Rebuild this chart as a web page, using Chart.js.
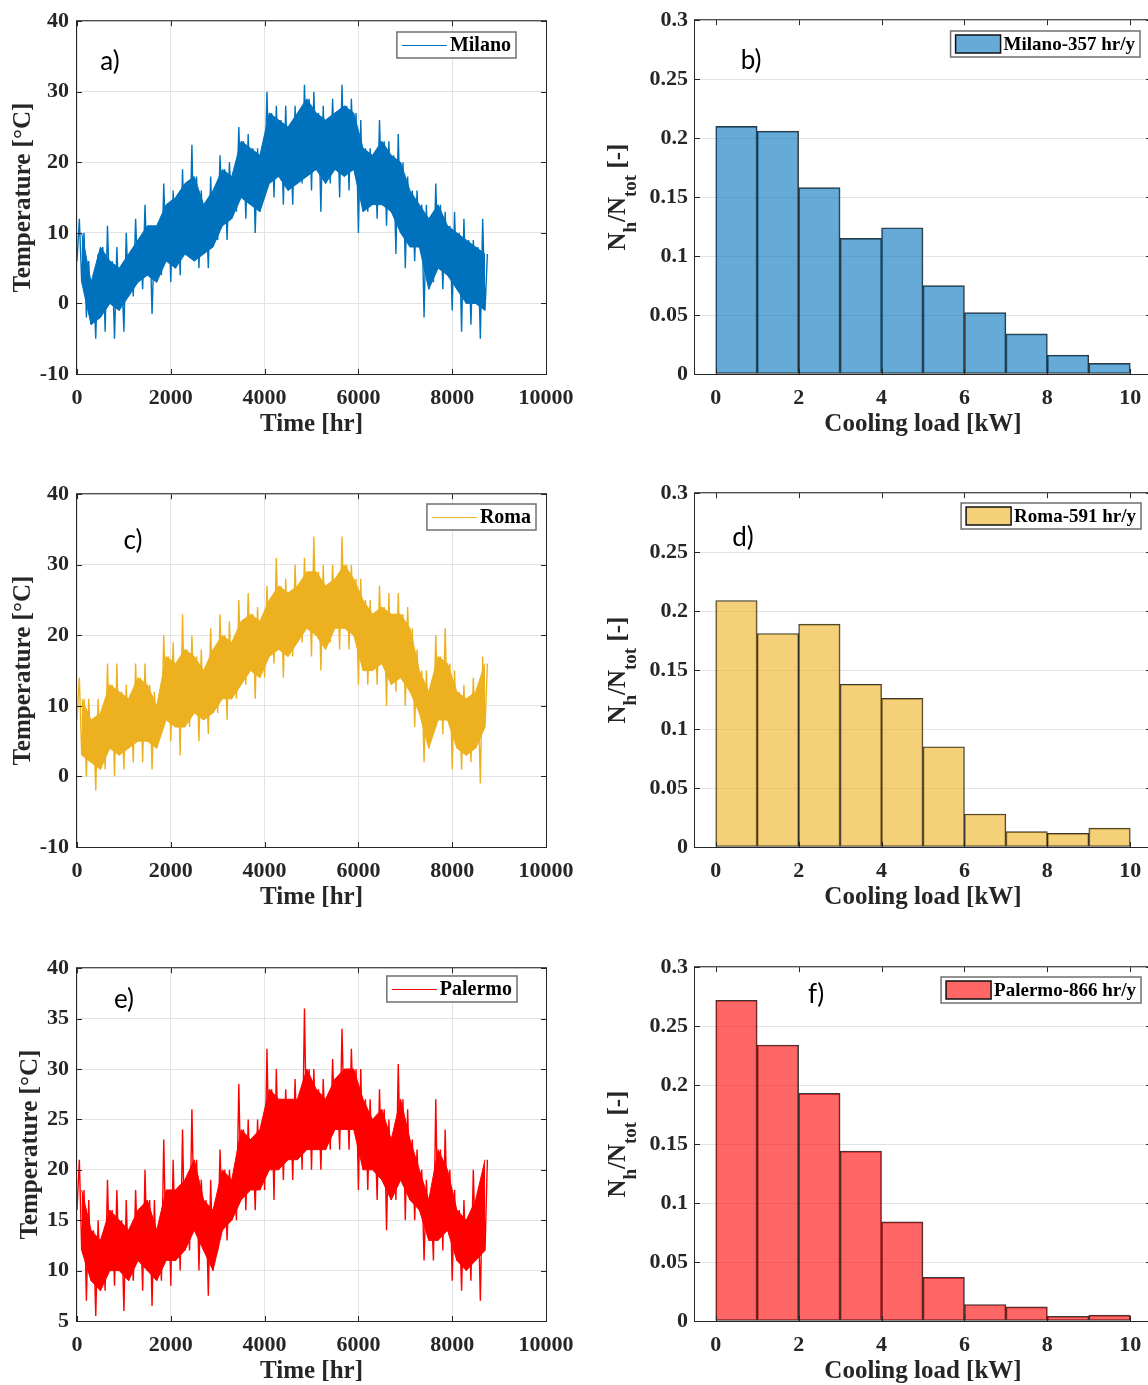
<!DOCTYPE html>
<html>
<head>
<meta charset="utf-8">
<script src="https://cdn.jsdelivr.net/npm/chart.js@4.4.1/dist/chart.umd.min.js"></script>
<style>
html, body { margin: 0; padding: 0; background: #fff; width: 1148px; height: 1385px; overflow: hidden; position: relative; }
canvas { position: absolute; }
</style>
</head>
<body>
<canvas id="tMilano" width="600" height="460" style="left:0;top:0"></canvas>
<canvas id="hMilano" width="600" height="460" style="left:590px;top:0"></canvas>
<canvas id="tRoma" width="600" height="460" style="left:0;top:473px"></canvas>
<canvas id="hRoma" width="600" height="460" style="left:590px;top:473px"></canvas>
<canvas id="tPalermo" width="600" height="460" style="left:0;top:947px"></canvas>
<canvas id="hPalermo" width="600" height="460" style="left:590px;top:947px"></canvas>
<script>
// hourly temperature, one value every 50 hours
const milanoTemp = [
  6, 12, 3, 10, -2, 6, -3, 3, -5, 7, -2, 8, -4, 11, 0, 6, -5, 8, -1, 5,
  -4, 10, 1, 7, 1, 12, 3, 9, 2, 14, 4, 11, -1.5, 9, 3, 11, 4, 17, 6, 14,
  3, 16, 5, 15, 4, 19, 7, 17, 8, 22.5, 6, 18, 5, 16, 7, 14, 5, 18, 8, 16,
  9, 21, 11, 19, 9, 20, 12, 18, 13, 25, 15, 23, 12, 24, 14, 22, 10, 22, 13, 21,
  16, 30, 17, 27, 15, 28, 18, 26, 14, 28, 16, 25, 14, 28, 17, 27, 17, 31, 18, 29,
  16, 30, 19, 27, 13, 28, 17, 26, 17, 29, 19, 27, 15, 31, 18, 28, 16, 29, 19, 27,
  10, 26, 13, 22, 13, 22, 14, 21, 12, 26, 14, 23, 11, 23, 13, 21, 7, 24, 10, 20,
  5, 18, 8, 16, 6, 16, 8, 14, -2, 14, 2, 12, 3, 17, 5, 14, 2, 13, 4, 11,
  -1, 13, 2, 10, -4, 12, 0, 9, -3, 9, 0, 8, -5, 12, -1, 7
];
const romaTemp = [
  8, 14, 3, 11, 0, 11, 2, 8, -2, 11, 1, 9, 1, 16, 4, 13, 0, 16, 3, 12,
  1, 13, 4, 11, 2, 16, 5, 14, 2, 16, 5, 13, 1, 12, 4, 10, 6, 20, 8, 17,
  5, 19, 7, 16, 3, 23, 7, 18, 7, 20, 9, 17, 5, 18, 8, 15, 6, 21, 9, 18,
  9, 23, 11, 20, 8, 22, 11, 19, 11, 25, 13, 22, 13, 26, 15, 23, 11, 24, 14, 22,
  14, 27, 17, 25, 16, 31, 18, 27, 14, 28, 17, 26, 17, 30, 19, 27, 19, 31, 21, 29,
  17, 34, 20, 29, 15, 30, 18, 27, 19, 30, 21, 28, 18, 34, 21, 30, 18, 30, 20, 28,
  13, 28, 15, 25, 13, 25, 15, 23, 13, 27, 16, 24, 10, 26, 13, 23, 12, 26, 14, 23,
  10, 24, 12, 21, 7, 18, 9, 15, 2, 15, 4, 12, 6, 20, 8, 17, 6, 21, 8, 16,
  1, 15, 4, 12, 1, 13, 3, 11, 2, 14, 4, 12, -1, 17, 7, 16
];
const palermoTemp = [
  16, 21, 12, 18, 7, 17, 9, 14, 5.5, 15, 8, 13, 8, 19, 10, 16, 8.5, 18, 10, 15,
  6, 17, 9, 14, 9, 18, 11, 16, 8, 20, 10, 17, 6.5, 17, 9, 14, 9, 23, 11, 18,
  8.5, 21, 11, 18, 10, 24, 12, 19, 12, 26, 14, 21, 10, 19, 12, 17, 7.5, 19, 10, 16,
  12, 22, 14, 20, 13, 20, 15, 19, 15, 28.5, 17, 24, 16, 25, 18, 23, 16, 25, 18, 24,
  18, 32, 20, 28, 17, 30, 20, 27, 19, 28, 21, 27, 19, 29, 21, 27, 20, 36, 22, 30,
  20, 30, 22, 28, 20, 29, 22, 27, 22, 31, 24, 29, 22, 34, 24, 30, 22, 32, 24, 30,
  18, 30, 20, 27, 18, 27, 20, 25, 17, 28, 19, 26, 14, 25, 17, 23, 17, 30.5, 19, 27,
  15, 26, 17, 23, 15, 22, 16, 20, 11, 19, 13, 17, 11, 27, 13, 22, 12, 24, 14, 20,
  9, 18, 11, 16, 8, 17, 10, 15, 9, 20, 11, 17, 7, 19, 12, 21
];
const hours = milanoTemp.map((_, i) => i * 50);

// dense core of the hourly traces (lower / upper edge), one value per 200 hours
const milanoCoreLo = [3, -3, -2, 0, -1, 1, 3, 4, 3, 6, 5, 7, 6, 7, 8, 11, 12, 15, 14, 13, 17, 18, 16, 17, 18, 19, 17, 19, 18, 19, 13, 14, 14, 13, 10, 8, 8, 2, 5, 4, 2, 0, 0, -1];
const milanoCoreHi = [10, 3, 8, 6, 5, 7, 9, 11, 11, 14, 15, 17, 18, 14, 16, 19, 18, 23, 22, 21, 27, 26, 25, 27, 29, 27, 26, 27, 28, 27, 22, 21, 23, 21, 20, 16, 14, 12, 14, 11, 10, 9, 8, 7];
const romaCoreLo = [3, 2, 1, 4, 3, 4, 5, 5, 4, 8, 7, 7, 9, 8, 9, 11, 11, 13, 15, 14, 17, 18, 17, 19, 21, 20, 18, 21, 21, 20, 15, 15, 16, 13, 14, 12, 9, 4, 8, 8, 4, 3, 4, 7];
const romaCoreHi = [11, 8, 9, 13, 12, 11, 14, 13, 10, 17, 16, 18, 17, 15, 18, 20, 19, 22, 23, 22, 25, 27, 26, 27, 29, 29, 27, 28, 30, 28, 25, 23, 24, 23, 23, 21, 15, 12, 17, 16, 12, 11, 12, 16];
const palermoCoreLo = [12, 9, 8, 10, 10, 9, 11, 10, 9, 11, 11, 12, 14, 12, 10, 14, 15, 17, 18, 18, 20, 20, 21, 21, 22, 22, 22, 24, 24, 24, 20, 20, 19, 17, 19, 17, 16, 13, 13, 14, 11, 10, 11, 12];
const palermoCoreHi = [18, 14, 13, 16, 15, 14, 16, 17, 14, 18, 18, 19, 21, 17, 16, 20, 19, 24, 23, 24, 28, 27, 27, 27, 30, 28, 27, 29, 30, 30, 27, 25, 26, 23, 27, 23, 20, 17, 22, 20, 16, 15, 17, 21];
const coreHours = milanoCoreLo.map((_, i) => i * 200 + 100);

// cooling load histograms (bins of 1 kW)
const loadBins = [0.5, 1.5, 2.5, 3.5, 4.5, 5.5, 6.5, 7.5, 8.5, 9.5];
const milanoFreq = [0.210, 0.206, 0.158, 0.115, 0.124, 0.075, 0.052, 0.034, 0.016, 0.009];
const romaFreq = [0.209, 0.181, 0.189, 0.138, 0.126, 0.085, 0.028, 0.013, 0.0115, 0.016];
const palermoFreq = [0.272, 0.234, 0.193, 0.144, 0.084, 0.037, 0.014, 0.012, 0.004, 0.005];

const timeTicks = [0, 2000, 4000, 6000, 8000, 10000];
const tempTicks = [-10, 0, 10, 20, 30, 40];
const tempTicksPalermo = [5, 10, 15, 20, 25, 30, 35, 40];
const loadTicks = [0, 2, 4, 6, 8, 10];
const freqTicks = [0, 0.05, 0.1, 0.15, 0.2, 0.25, 0.3];

const SERIF = '"Liberation Serif", "Times New Roman", serif';
const INK = '#262626';

const decor = {
  id: 'decor',
  afterDraw(chart, args, o) {
    const { ctx, chartArea: a, scales } = chart;
    const ox = o.off[0], oy = o.off[1];
    ctx.save();
    ctx.strokeStyle = INK;
    ctx.lineWidth = 1;
    ctx.strokeRect(a.left - 0.5, a.top - 0.5, a.right - a.left + 1, a.bottom - a.top + 1);
    ctx.beginPath();
    scales.x.ticks.forEach(t => {
      const px = Math.round(scales.x.getPixelForValue(t.value)) + 0.5;
      ctx.moveTo(px, a.bottom); ctx.lineTo(px, a.bottom - 5);
      ctx.moveTo(px, a.top); ctx.lineTo(px, a.top + 5);
    });
    scales.y.ticks.forEach(t => {
      const py = Math.round(scales.y.getPixelForValue(t.value)) + 0.5;
      ctx.moveTo(a.left, py); ctx.lineTo(a.left + 5, py);
      ctx.moveTo(a.right, py); ctx.lineTo(a.right - 5, py);
    });
    ctx.stroke();

    // axis titles
    ctx.fillStyle = INK;
    ctx.font = 'bold 25px ' + SERIF;
    ctx.textAlign = 'center';
    ctx.textBaseline = 'middle';
    ctx.fillText(o.xTitle, (a.left + a.right) / 2, a.bottom + 51);

    ctx.save();
    ctx.translate(o.yTitleX - ox, (a.top + a.bottom) / 2);
    ctx.rotate(-Math.PI / 2);
    const parts = o.yTitle;
    const big = 'bold 25px ' + SERIF, small = 'bold 19px ' + SERIF;
    let total = 0;
    parts.forEach(p => { ctx.font = p.sub ? small : big; total += ctx.measureText(p.t).width; });
    let x = -total / 2;
    ctx.textAlign = 'left';
    ctx.textBaseline = 'alphabetic';
    parts.forEach(p => {
      ctx.font = p.sub ? small : big;
      ctx.fillText(p.t, x, p.sub ? 19 : 8);
      x += ctx.measureText(p.t).width;
    });
    ctx.restore();

    // legend
    const L = o.legend;
    ctx.font = 'bold ' + L.size + 'px ' + SERIF;
    const tw = ctx.measureText(L.label).width;
    const sw = 45, h = 26;
    const w = 5 + sw + 3 + tw + 5;
    const x0 = L.right - ox - w, y0 = L.top - oy;
    ctx.fillStyle = '#fff';
    ctx.fillRect(x0, y0, w, h);
    ctx.strokeStyle = '#707070';
    ctx.lineWidth = 1.5;
    ctx.strokeRect(x0, y0, w, h);
    if (L.kind === 'line') {
      ctx.strokeStyle = L.color;
      ctx.lineWidth = 1;
      ctx.beginPath();
      ctx.moveTo(x0 + 5, y0 + h / 2 + 0.5);
      ctx.lineTo(x0 + 5 + sw, y0 + h / 2 + 0.5);
      ctx.stroke();
    } else {
      ctx.fillStyle = L.color;
      ctx.fillRect(x0 + 5, y0 + 4, sw, h - 8);
      ctx.strokeStyle = '#111';
      ctx.lineWidth = 1.5;
      ctx.strokeRect(x0 + 5, y0 + 4, sw, h - 8);
    }
    ctx.fillStyle = '#000';
    ctx.textAlign = 'left';
    ctx.textBaseline = 'middle';
    ctx.fillText(L.label, x0 + 5 + sw + 3, y0 + h / 2 + 1);

    // panel letter
    ctx.font = '26px Lato, "Open Sans", sans-serif';
    ctx.textAlign = 'center';
    ctx.fillText(o.panel[0], o.panel[1] - ox, o.panel[2] - oy);
    ctx.restore();
  }
};

const tickFont = { family: SERIF, size: 22, weight: 'bold' };

function tempChart(id, off, series, coreLo, coreHi, color, name, yTicks, yTitleX, legendRight, legendTop, panel) {
  return new Chart(document.getElementById(id), {
    type: 'line',
    data: {
      datasets: [{
        label: name,
        data: series.map((v, i) => ({ x: hours[i], y: v })),
        borderColor: color,
        borderWidth: 1.4,
        borderJoinStyle: 'bevel',
        pointRadius: 0,
        tension: 0,
        fill: false
      }, {
        data: coreHi.map((v, i) => ({ x: coreHours[i], y: v })),
        borderColor: color,
        borderWidth: 1,
        backgroundColor: color,
        pointRadius: 0,
        tension: 0,
        fill: '+1'
      }, {
        data: coreLo.map((v, i) => ({ x: coreHours[i], y: v })),
        borderColor: color,
        borderWidth: 1,
        pointRadius: 0,
        tension: 0,
        fill: false
      }]
    },
    options: {
      responsive: false,
      animation: false,
      events: [],
      layout: { padding: { top: 19, right: 54, bottom: 0, left: 0 } },
      plugins: {
        legend: { display: false },
        tooltip: { enabled: false },
        decor: {
          off: off,
          xTitle: 'Time [hr]',
          yTitle: [{ t: 'Temperature [°C]' }],
          yTitleX: yTitleX,
          legend: { kind: 'line', label: name, color: color, right: legendRight, top: legendTop, size: 20 },
          panel: panel
        }
      },
      scales: {
        x: {
          type: 'linear', min: 0, max: 10000,
          afterFit: s => { s.height = 86; },
          afterBuildTicks: s => { s.ticks = timeTicks.map(v => ({ value: v })); },
          grid: { color: '#e3e3e3', drawTicks: false },
          border: { display: false },
          ticks: { font: tickFont, color: INK, padding: 11, maxRotation: 0, autoSkip: false, callback: v => String(v) }
        },
        y: {
          type: 'linear', min: yTicks[0], max: yTicks[yTicks.length - 1],
          afterFit: s => { s.width = 77; },
          afterBuildTicks: s => { s.ticks = yTicks.map(v => ({ value: v })); },
          grid: { color: '#e3e3e3', drawTicks: false },
          border: { display: false },
          ticks: { font: tickFont, color: INK, padding: 8, autoSkip: false, callback: v => String(v) }
        }
      }
    },
    plugins: [decor]
  });
}

function loadChart(id, off, freq, fill, label, legendRight, legendTop, panel) {
  return new Chart(document.getElementById(id), {
    type: 'bar',
    data: {
      datasets: [{
        label: label,
        data: freq.map((v, i) => ({ x: loadBins[i], y: v })),
        backgroundColor: fill,
        borderColor: 'rgba(20,20,20,0.85)',
        borderWidth: 1,
        borderSkipped: false,
        barPercentage: 1,
        categoryPercentage: 1
      }]
    },
    options: {
      responsive: false,
      animation: false,
      events: [],
      layout: { padding: { top: 19, right: 39, bottom: 0, left: 0 } },
      plugins: {
        legend: { display: false },
        tooltip: { enabled: false },
        decor: {
          off: off,
          xTitle: 'Cooling load [kW]',
          yTitle: [{ t: 'N' }, { t: 'h', sub: true }, { t: '/N' }, { t: 'tot', sub: true }, { t: ' [-]' }],
          yTitleX: off[0] + 27,
          legend: { kind: 'box', label: label, color: fill, right: legendRight, top: legendTop, size: 19 },
          panel: panel
        }
      },
      scales: {
        x: {
          type: 'linear', min: -0.5, max: 10.5, offset: false,
          afterFit: s => { s.height = 86; },
          afterBuildTicks: s => { s.ticks = loadTicks.map(v => ({ value: v })); },
          grid: { display: false, offset: false, drawTicks: false },
          border: { display: false },
          ticks: { font: tickFont, color: INK, padding: 11, maxRotation: 0, autoSkip: false, callback: v => String(v) }
        },
        y: {
          type: 'linear', min: 0, max: 0.3,
          afterFit: s => { s.width = 105; },
          afterBuildTicks: s => { s.ticks = freqTicks.map(v => ({ value: v })); },
          grid: { color: '#e3e3e3', drawTicks: false },
          border: { display: false },
          ticks: { font: tickFont, color: INK, padding: 7, autoSkip: false, callback: v => String(v) }
        }
      }
    },
    plugins: [decor]
  });
}

tempChart('tMilano', [0, 0], milanoTemp, milanoCoreLo, milanoCoreHi, '#0072BD', 'Milano', tempTicks, 22, 516, 32, ['a)', 110, 62]);
tempChart('tRoma', [0, 473], romaTemp, romaCoreLo, romaCoreHi, '#EDB120', 'Roma', tempTicks, 22, 536, 504, ['c)', 133, 541]);
tempChart('tPalermo', [0, 947], palermoTemp, palermoCoreLo, palermoCoreHi, '#FF0000', 'Palermo', tempTicksPalermo, 29, 517, 976, ['e)', 124, 1000]);

loadChart('hMilano', [590, 0], milanoFreq, 'rgba(0,114,189,0.6)', 'Milano-357 hr/y', 1140, 31, ['b)', 751, 61]);
loadChart('hRoma', [590, 473], romaFreq, 'rgba(237,177,32,0.6)', 'Roma-591 hr/y', 1141, 503, ['d)', 743, 538]);
loadChart('hPalermo', [590, 947], palermoFreq, 'rgba(255,0,0,0.6)', 'Palermo-866 hr/y', 1141, 977, ['f)', 816, 995]);
</script>
</body>
</html>
